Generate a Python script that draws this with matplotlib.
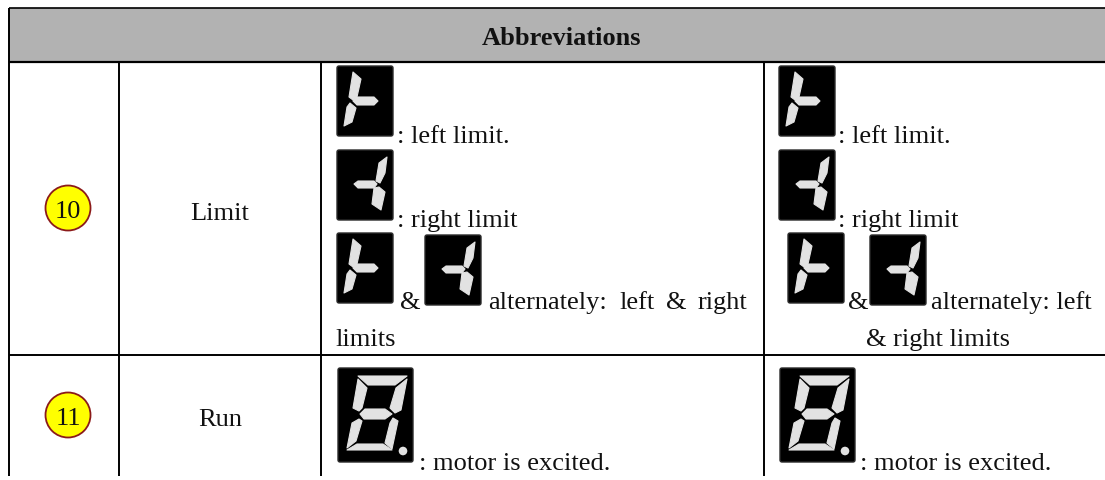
import matplotlib
matplotlib.use("Agg")
import matplotlib.pyplot as plt
from matplotlib.patches import Polygon, Circle, FancyBboxPatch, Rectangle

plt.rcParams['font.family'] = ['Liberation Serif', 'DejaVu Serif']

title = "Abbreviations"
row_numbers = ["10", "11"]
row_names = ["Limit", "Run"]
text_color = "#111111"

W, H = 1105, 480
fig = plt.figure(figsize=(W/100, H/100), dpi=100)
ax = fig.add_axes([0, 0, 1, 1])
ax.set_xlim(0, W); ax.set_ylim(H, 0); ax.axis("off")

# table grid
L, T, HB, RB, B = 8.5, 7.5, 62, 355, 476
C1, C2, C3 = 119, 321, 764
ax.add_patch(Rectangle((L, T), W-L, HB-T, fc="#b2b2b2", ec="none", zorder=0))
for y, lw in ((T, 1.2), (HB, 1.6), (RB, 1.4)):
    ax.plot([L, W], [y, y], color="black", lw=lw, solid_capstyle="butt", zorder=3)
for x, y0 in ((L, T), (C1, HB), (C2, HB), (C3, HB)):
    ax.plot([x, x], [y0, B], color="black", lw=1.4, solid_capstyle="butt", zorder=3)

FS = 19.0
def txt(x, y, s, ha="left", **kw):
    ax.text(x, y, s, ha=ha, va="baseline", fontsize=FS, color=text_color, **kw)

txt(561, 45, title, ha="center", fontweight="bold")

# seven-segment icons, shapes relative to the icon box
L_UP = [(16,6),(24,13),(20,31),(16,34),(12,31)]
L_LO = [(13,37),(19,42),(15,56),(7,60),(10,41)]
L_MID = [(18,31),(37,31),(41,35),(37,39),(20,39),(16,35)]
R_UP = [(50,7),(48,23),(43,33),(39,31),(42,13)]
R_LO = [(37,38),(42,37),(48,42),(44,60),(35,54)]
R_MID = [(17,34),(21,31),(37,31),(40,34),(37,38),(21,38)]
LIGHT = "#e2e2e2"

def box(x, y, w, h):
    ax.add_patch(FancyBboxPatch((x+1.5, y+1.5), w-3, h-3, boxstyle="round,pad=1.5,rounding_size=2",
                                fc="black", ec="#2a2a2a", lw=1, zorder=4))
def seg(x, y, pts):
    ax.add_patch(Polygon([(x+a, y+b) for a, b in pts], closed=True, fc=LIGHT,
                         ec=LIGHT, lw=0.8, joinstyle="round", zorder=5))
def left_icon(x, y):
    box(x, y, 56, 70)
    for s in (L_UP, L_LO, L_MID): seg(x, y, s)
def right_icon(x, y):
    box(x, y, 56, 70)
    for s in (R_UP, R_LO, R_MID): seg(x, y, s)

E_TOP = [(20,8),(69,8),(57,17),(30,17)]
E_UL = [(20,11),(29,20),(24,40),(21,43),(15,40)]
E_UR = [(69,11),(63,42),(57,45),(52,40),(58,20)]
E_MID = [(22,46),(27,41),(47,41),(54,46),(47,51),(26,51)]
E_LL = [(21,51),(24,53),(18,73),(9,80),(14,55)]
E_LR = [(55,50),(60,53),(54,81),(47,75),(52,55)]
E_BOT = [(9,82),(19,76),(45,76),(54,82)]
def eight(x, y):
    box(x, y, 75, 94)
    for s in (E_TOP, E_UL, E_UR, E_MID, E_LL, E_LR, E_BOT):
        seg(x, y, s)
    ax.add_patch(Circle((x+65, y+83), 4.3, fc=LIGHT, ec="none", zorder=5))

# numbered circles
for cy, num in zip((208, 415), row_numbers):
    ax.add_patch(Circle((68, cy), 22.5, fc="#ffff00", ec="#8b1a1a", lw=1.3, zorder=4))
    txt(68, cy+10, num, ha="center", zorder=6)

txt((C1+C2)/2, 220, row_names[0], ha="center")
txt((C1+C2)/2, 426, row_names[1], ha="center")

# middle column
left_icon(337, 66);  txt(397, 143, ": left limit.")
right_icon(337, 150); txt(397, 227, ": right limit")
left_icon(337, 233); right_icon(425, 235)
txt(400, 309, "&"); txt(488, 309, "alternately:")
txt(619, 309, "left"); txt(666, 309, "&"); txt(698, 309, "right")
txt(335, 346, "limits")
eight(338, 368);  txt(419, 470, ": motor is excited.")

# right column
left_icon(779, 66);  txt(838, 143, ": left limit.")
right_icon(779, 150); txt(838, 227, ": right limit")
left_icon(788, 233); right_icon(870, 235)
txt(848, 309, "&"); txt(931, 309, "alternately: left")
txt(866, 346, "& right limits")
eight(780, 368);  txt(860, 470, ": motor is excited.")

fig.savefig("out.png", dpi=100, facecolor="white")
